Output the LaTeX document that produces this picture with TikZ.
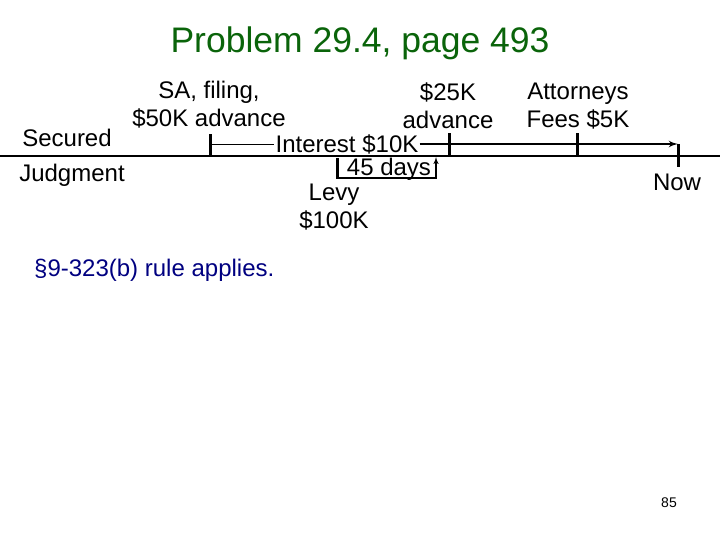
\documentclass[tikz,border=0pt]{standalone}
\usepackage{fontspec}
\setmainfont{Liberation Sans}
\usepackage{tikz}
\usetikzlibrary{arrows}
\tikzset{>=latex'}
\definecolor{titlegreen}{RGB}{10,100,10}
\definecolor{rulenavy}{RGB}{0,0,128}
\tikzset{tick/.style={line width=3pt},
	event/.style={align=center}}

\begin{document}
\begin{tikzpicture}[x=1pt,y=-1pt,inner sep=1pt,font=\fontsize{24}{28}\selectfont]
	\useasboundingbox (0,0) rectangle (720,540);
	\node[text=titlegreen,font=\fontsize{35.5}{40}\selectfont] (titel) at (360,43) {Problem 29.4, page 493};
	\node (secured) at (67,138) {Secured};
	\node (judgment) at (72,175) {Judgment};
	\node[event] (filing) at (209,105) {SA, filing,\\\$50K advance};
	\node[event] (advance) at (448,106) {\$25K\\advance};
	\node[event] (fees) at (578,106) {Attorneys\\Fees \$5K};
	\node (interest) at (347,144) {Interest \$10K};
	\node (days) at (389,169) {45 days};
	\node[event] (levy) at (334,207) {Levy\\\$100K};
	\node (now) at (677,182) {Now};
	\node[anchor=west,text=rulenavy] (rule) at (33,270) {\S9-323(b) rule applies.};
	\node[font=\fontsize{14}{16}\selectfont] (pagenr) at (669,503) {85};
	\coordinate (tl) at (0,156);
	\coordinate (tr) at (720,156);
	\coordinate (t1) at (210,156);
	\coordinate (t2) at (449,156);
	\coordinate (t3) at (577,156);
	\coordinate (start) at (210,144);
	\coordinate (end) at (678,144);
	\coordinate (dl) at (337,158);
	\coordinate (db) at (387,178);
	\coordinate (dr) at (436,157);
	\draw[line width=1.3pt] (tl) -- (tr);
	\draw[tick] (t1) -- +(0,-22);
	\draw[tick] (t2) -- +(0,-23);
	\draw[tick] (t3) -- +(0,-23);
	\draw[tick] (end) -- +(0,23);
	\draw[line width=0.9pt] (start) -- (interest.west);
	\draw[line width=2.2pt,->] (interest.east) -- (end);
	\draw[line width=1.4pt,->] (dl) |- (db) -| (dr);
	\draw[line width=3pt] (dl) -- (dl |- db);
\end{tikzpicture}
\end{document}
